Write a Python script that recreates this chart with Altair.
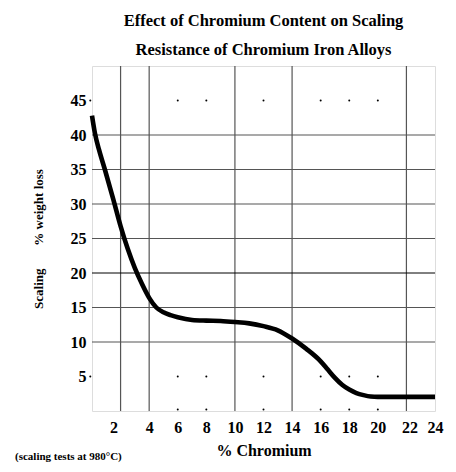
import altair as alt
import pandas as pd

# ---- data ----
chrom = [0, 0.2, 0.5, 0.9, 1.5, 2.0, 2.5, 3.0, 3.5, 4.0, 4.5, 5.0, 5.5, 6, 7, 8, 9, 10, 11, 12, 13, 14, 15, 16, 16.5, 17, 17.5, 18, 18.5, 19, 19.5, 20, 22, 24]
loss = [42.8, 40.3, 37.8, 35.0, 30.6, 26.8, 23.5, 20.7, 18.4, 16.4, 15.0, 14.3, 13.9, 13.6, 13.2, 13.1, 13.05, 12.9, 12.7, 12.3, 11.7, 10.5, 9.0, 7.2, 6.0, 4.8, 3.8, 3.1, 2.6, 2.3, 2.1, 2.05, 2.05, 2.05]

grid_x = [2, 4, 10, 14, 22]
grid_y = [10, 15, 25, 30, 35, 40]
grid_y_dark = [20]
dot_x = [6, 8, 12, 16, 18, 20]
dot_y = [45, 5]
x_ticks = [2, 4, 6, 8, 10, 12, 14, 16, 18, 20, 22, 24]
y_ticks = [5, 10, 15, 20, 25, 30, 35, 40, 45]

title_lines = ["Effect of Chromium Content on Scaling", "Resistance of Chromium Iron Alloys"]
x_title = "% Chromium"
y_title = "Scaling" + "\u00a0" * 7 + "% weight loss"
footnote = "(scaling tests at 980°C)"

FONT = "Liberation Serif"

xs = alt.Scale(domain=[0, 24], nice=False, zero=False)
ys = alt.Scale(domain=[0, 50], nice=False, zero=False)

x_axis = alt.Axis(values=x_ticks, title=x_title, grid=False, ticks=False, domain=False,
                  labelFont=FONT, labelFontSize=16, labelFontWeight="bold", labelColor="black",
                  labelFlush=False, labelOverlap=False,
                  labelOffset={"condition": [{"test": "datum.value == 2", "value": -7},
                                             {"test": "datum.value == 22", "value": 3}],
                               "value": 0},
                  labelPadding=8, titleFont=FONT, titleFontSize=16, titleFontWeight="bold",
                  titleColor="black", titlePadding=7)
y_axis = alt.Axis(values=y_ticks, title=y_title, grid=False, ticks=False, domain=False,
                  labelFont=FONT, labelFontSize=16, labelFontWeight="bold", labelColor="black",
                  labelFlush=False, labelOverlap=False,
                  labelPadding=6, titleFont=FONT, titleFontSize=13, titleFontWeight="bold",
                  titleColor="black", titlePadding=25)

df_curve = pd.DataFrame({"x": chrom, "y": loss})
df_gx = pd.DataFrame({"x": grid_x})
df_gy = pd.DataFrame({"y": grid_y})
df_gy2 = pd.DataFrame({"y": grid_y_dark})
df_dots = pd.DataFrame([{"x": a, "y": b} for b in dot_y for a in dot_x])
df_tick_b = pd.DataFrame({"x": dot_x, "y": [0.2] * len(dot_x)})
df_tick_l = pd.DataFrame({"x": [-0.12] * len(dot_y), "y": dot_y})

X = lambda f: alt.X(f, scale=xs, axis=x_axis)
Y = lambda f: alt.Y(f, scale=ys, axis=y_axis)

vrules = alt.Chart(df_gx).mark_rule(color="#555555", strokeWidth=1.2).encode(x=X("x:Q"))
hrules = alt.Chart(df_gy).mark_rule(color="#555555", strokeWidth=1.2).encode(y=Y("y:Q"))
hrules2 = alt.Chart(df_gy2).mark_rule(color="black", strokeWidth=1).encode(y=Y("y:Q"))
dots = alt.Chart(df_dots).mark_circle(size=4, color="black", opacity=1).encode(x=X("x:Q"), y=Y("y:Q"))
tb = alt.Chart(df_tick_b).mark_circle(size=4, color="black", opacity=1).encode(x=X("x:Q"), y=Y("y:Q"))
tl = alt.Chart(df_tick_l).mark_circle(size=4, color="black", opacity=1).encode(x=X("x:Q"), y=Y("y:Q"))
curve = alt.Chart(df_curve).mark_line(color="black", strokeWidth=4.6, interpolate="monotone").encode(
    x=X("x:Q"), y=Y("y:Q"))
foot = alt.Chart(pd.DataFrame({"t": [footnote]})).mark_text(
    align="left", baseline="middle", font=FONT, fontSize=11, fontWeight="bold", color="black"
).encode(x=alt.value(-77), y=alt.value(391), text="t:N")

chart = alt.layer(vrules, hrules, hrules2, dots, tb, tl, curve, foot).properties(
    width=343, height=345,
    autosize=alt.AutoSizeParams(type="none"),
    padding={"left": 84, "top": 58, "right": 13, "bottom": 53},
    title=alt.TitleParams(title_lines, font=FONT, fontSize=16.5, fontWeight="bold", color="black",
                          anchor="middle", lineHeight=29, offset=7),
).configure_view(stroke="black", strokeWidth=1.6).configure(background="white")

chart.save("out.html", embed_options={"renderer": "svg", "actions": False})
